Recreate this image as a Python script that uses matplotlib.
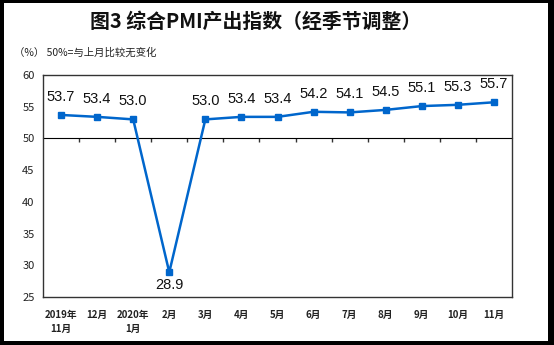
import matplotlib
matplotlib.use("Agg")
import matplotlib.pyplot as plt
from matplotlib.patches import Rectangle

plt.rcParams['font.family'] = ['Noto Sans CJK SC', 'DejaVu Sans']

# 数据
months = ["2019年\n11月", "12月", "2020年\n1月", "2月", "3月", "4月", "5月",
          "6月", "7月", "8月", "9月", "10月", "11月"]
values = [53.7, 53.4, 53.0, 28.9, 53.0, 53.4, 53.4, 54.2, 54.1, 54.5, 55.1, 55.3, 55.7]
y_ticks = [25, 30, 35, 40, 45, 50, 55, 60]
baseline = 50

line_color = '#0066CC'

fig = plt.figure(figsize=(5.54, 3.45), dpi=100, facecolor='black')
# 白色底板（外面一圈黑边）
fig.patches.append(Rectangle((4 / 554, 4 / 345), 544 / 554, 338 / 345,
                             transform=fig.transFigure, facecolor='white',
                             edgecolor='none', zorder=-1))

ax = fig.add_axes([43 / 554, 1 - 297 / 345, 469 / 554, 222 / 345])
x = list(range(len(values)))
ax.plot(x, values, color=line_color, linewidth=1.8, marker='s', markersize=4.5,
        zorder=3)

ax.set_xlim(-0.5, len(values) - 0.5)
ax.set_ylim(y_ticks[0], y_ticks[-1])
ax.set_yticks(y_ticks)
ax.tick_params(axis='y', length=0, labelsize=8, pad=6, labelcolor='#222222')
ax.set_xticks([])
for s in ax.spines.values():
    s.set_color('#333333')
    s.set_linewidth(1.0)

# 50 线及其刻度
loc = (baseline - y_ticks[0]) / (y_ticks[-1] - y_ticks[0])
sec = ax.secondary_xaxis(loc)
sec.set_xticks([i + 0.5 for i in x[:-1]])
sec.tick_params(direction='in', length=3, width=1.0, color='#333333',
                labelbottom=False, labeltop=False)
sec.spines['bottom'].set_color('#333333')
sec.spines['bottom'].set_linewidth(1.0)

# 数据标签（低于 50 的写在点下方）
for xi, v in zip(x, values):
    dy = -9 if v < baseline else 13
    ax.annotate(f"{v:.1f}", (xi, v), xytext=(0, dy), textcoords='offset points',
                ha='center', va='center', fontsize=10.5, family='Liberation Sans',
                color='#111111')

# x 轴标签
for xi, m in zip(x, months):
    ax.text(xi, -0.06, m, transform=ax.get_xaxis_transform(), ha='center',
            va='top', fontsize=7, fontweight='bold', color='#222222',
            linespacing=1.5)

fig.text(256 / 554, 1 - 21 / 345, "图3 综合PMI产出指数（经季节调整）", ha='center',
         va='center', fontsize=14.3, fontweight='bold', color='#111111')
fig.text(14 / 554, 1 - 53 / 345, "（%） 50%=与上月比较无变化", ha='left',
         va='center', fontsize=7.5, color='#222222')

fig.savefig('out.png', dpi=100, facecolor=fig.get_facecolor())
